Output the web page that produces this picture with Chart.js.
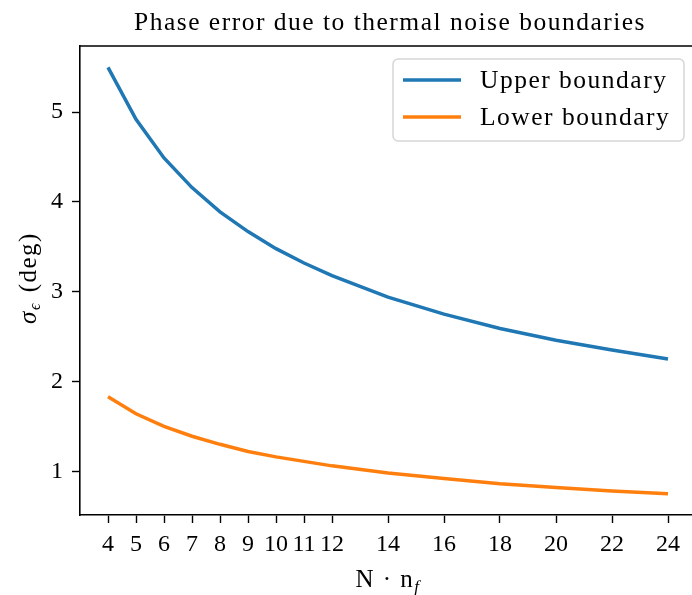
<!DOCTYPE html>
<html>
<head>
<meta charset="utf-8">
<script src="https://cdn.jsdelivr.net/npm/chart.js@4"></script>
<style>
  html, body { margin: 0; padding: 0; background: #fff; overflow: hidden; }
  #wrap { width: 700px; height: 595px; }
</style>
</head>
<body>
<div id="wrap"><canvas id="myChart" width="700" height="595"></canvas></div>
<script>
const xValues = [4, 5, 6, 7, 8, 9, 10, 11, 12, 14, 16, 18, 20, 22, 24];
const upper = [5.50, 4.92, 4.49, 4.16, 3.89, 3.67, 3.48, 3.32, 3.18, 2.94, 2.75, 2.59, 2.46, 2.35, 2.25];
const lower = [1.83, 1.64, 1.50, 1.39, 1.30, 1.22, 1.16, 1.11, 1.06, 0.98, 0.92, 0.86, 0.82, 0.78, 0.75];
const xTicks = [4, 5, 6, 7, 8, 9, 10, 11, 12, 14, 16, 18, 20, 22, 24];
const yTicks = [1, 2, 3, 4, 5];

const FONT = "'Liberation Serif', 'DejaVu Serif', serif";
const BLUE = '#1f77b4';
const ORANGE = '#ff7f0e';
const SPACING = '1.5px';

const toPoints = (ys) => xValues.map((x, i) => ({ x: x, y: ys[i] }));

// title, axis labels (with subscripts), top spine and legend
const decorations = {
  id: 'decorations',
  afterDraw(chart) {
    const ctx = chart.ctx;
    const a = chart.chartArea;
    ctx.save();

    // top spine
    ctx.strokeStyle = '#000';
    ctx.lineWidth = 1.6;
    ctx.beginPath();
    ctx.moveTo(a.left, a.top);
    ctx.lineTo(a.right, a.top);
    ctx.lineTo(a.right, a.bottom);
    ctx.stroke();

    ctx.fillStyle = '#000';
    ctx.textBaseline = 'alphabetic';
    ctx.letterSpacing = SPACING;

    // title
    ctx.font = '25.5px ' + FONT;
    ctx.textAlign = 'center';
    ctx.fillText('Phase error due to thermal noise boundaries', 390, 30);

    // x label: N · n_f
    const cx = 388;
    ctx.font = '25px ' + FONT;
    const main = 'N \u00B7 n';
    const wMain = ctx.measureText(main).width;
    ctx.font = 'italic 17px ' + FONT;
    const wSub = ctx.measureText('f').width;
    const x0 = cx - (wMain + wSub) / 2;
    ctx.textAlign = 'left';
    ctx.font = '25px ' + FONT;
    ctx.fillText(main, x0, 587);
    ctx.font = 'italic 17px ' + FONT;
    ctx.fillText('f', x0 + wMain, 592);

    // y label: σ_ε (deg), rotated
    ctx.translate(36, 278);
    ctx.rotate(-Math.PI / 2);
    ctx.font = 'italic 25px ' + FONT;
    const wSig = ctx.measureText('\u03C3').width;
    ctx.font = 'italic 16px ' + FONT;
    const wEps = ctx.measureText('\u03F5').width;
    ctx.font = '25px ' + FONT;
    const wDeg = ctx.measureText(' (deg)').width;
    let yx = -(wSig + wEps + 2 + wDeg) / 2;
    ctx.font = 'italic 25px ' + FONT;
    ctx.fillText('\u03C3', yx, 0);
    yx += wSig;
    ctx.font = 'italic 16px ' + FONT;
    ctx.fillText('\u03F5', yx, 4);
    yx += wEps + 2;
    ctx.font = '25px ' + FONT;
    ctx.fillText(' (deg)', yx, 0);
    ctx.setTransform(1, 0, 0, 1, 0, 0);

    // legend
    const lx = 393, ly = 59, lw = 291, lh = 82, r = 5;
    ctx.globalAlpha = 0.8;
    ctx.fillStyle = '#fff';
    ctx.strokeStyle = '#cccccc';
    ctx.lineWidth = 1.5;
    ctx.beginPath();
    ctx.roundRect(lx, ly, lw, lh, r);
    ctx.fill();
    ctx.stroke();
    ctx.globalAlpha = 1;

    const items = [
      { label: 'Upper boundary', color: BLUE, y: 80 },
      { label: 'Lower boundary', color: ORANGE, y: 117 }
    ];
    ctx.font = '25.5px ' + FONT;
    ctx.textAlign = 'left';
    ctx.textBaseline = 'alphabetic';
    items.forEach(it => {
      ctx.strokeStyle = it.color;
      ctx.lineWidth = 3.5;
      ctx.beginPath();
      ctx.moveTo(403, it.y);
      ctx.lineTo(461, it.y);
      ctx.stroke();
      ctx.fillStyle = '#000';
      ctx.fillText(it.label, 480, it.y + 8);
    });

    ctx.restore();
  }
};

const data = {
  datasets: [
    {
      label: 'Upper boundary',
      data: toPoints(upper),
      borderColor: BLUE,
      borderWidth: 3.5,
      pointRadius: 0,
      tension: 0,
      fill: false
    },
    {
      label: 'Lower boundary',
      data: toPoints(lower),
      borderColor: ORANGE,
      borderWidth: 3.5,
      pointRadius: 0,
      tension: 0,
      fill: false
    }
  ]
};

const config = {
  type: 'line',
  data: data,
  options: {
    responsive: false,
    animation: false,
    layout: { padding: { left: 0, right: 4, top: 46, bottom: 0 } },
    plugins: {
      legend: { display: false },
      title: { display: false },
      tooltip: { enabled: false }
    },
    scales: {
      x: {
        type: 'linear',
        min: 3,
        max: 25,
        afterBuildTicks: (scale) => { scale.ticks = xTicks.map(v => ({ value: v })); },
        afterFit: (scale) => { scale.height = 80; },
        grid: { drawOnChartArea: false, drawTicks: true, tickLength: 8, tickWidth: 1.4, tickColor: '#000' },
        border: { display: true, color: '#000', width: 1.6 },
        ticks: {
          color: '#000',
          padding: 7,
          maxRotation: 0,
          autoSkip: false,
          font: { family: FONT, size: 24 },
          callback: (v) => String(v)
        }
      },
      y: {
        type: 'linear',
        min: 0.5125,
        max: 5.7375,
        afterBuildTicks: (scale) => { scale.ticks = yTicks.map(v => ({ value: v })); },
        afterFit: (scale) => { scale.width = 80; },
        grid: { drawOnChartArea: false, drawTicks: true, tickLength: 8, tickWidth: 1.4, tickColor: '#000' },
        border: { display: true, color: '#000', width: 1.6 },
        ticks: {
          color: '#000',
          padding: 9,
          font: { family: FONT, size: 24 },
          callback: (v) => String(v)
        }
      }
    }
  },
  plugins: [decorations]
};

const myChart = new Chart(
  document.getElementById('myChart'),
  config
);
</script>
</body>
</html>
